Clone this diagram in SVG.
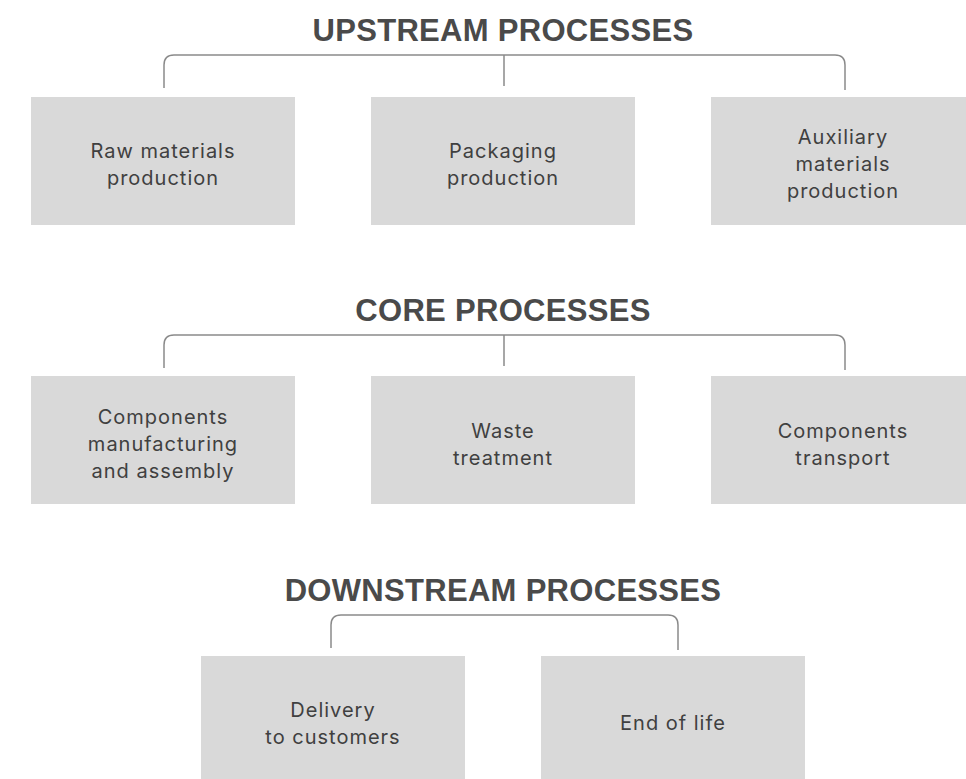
<svg xmlns="http://www.w3.org/2000/svg" width="966" height="779" viewBox="0 0 966 779">
  <style>
    .box { fill: #d9d9d9; }
    .lbl { font-family: Inter, "Noto Sans", "Liberation Sans", sans-serif; font-size: 20px; font-weight: 400; fill: #404040; text-anchor: middle; letter-spacing: 1px; }
    .title { font-family: "Liberation Sans", Arial, sans-serif; font-weight: bold; font-size: 31px; fill: #4a4a4a; text-anchor: middle; letter-spacing: 0.3px; }
    .br { fill: none; stroke: #8a8a8a; stroke-width: 1.5; }
  </style>
  <rect width="966" height="779" fill="#ffffff"/>

  <!-- section titles -->
  <g id="titles">
    <text class="title" x="503" y="41">UPSTREAM PROCESSES</text>
    <text class="title" x="503" y="321">CORE PROCESSES</text>
    <text class="title" x="503" y="601">DOWNSTREAM PROCESSES</text>
  </g>

  <!-- brackets linking titles to their process boxes -->
  <g id="connectors">
    <path class="br" d="M164 88 V65 Q164 55 174 55 H835 Q845 55 845 65 V90"/>
    <line class="br" x1="504" y1="55" x2="504" y2="86"/>
    <path class="br" d="M164 368 V345 Q164 335 174 335 H835 Q845 335 845 345 V370"/>
    <line class="br" x1="504" y1="335" x2="504" y2="366"/>
    <path class="br" d="M331 648 V625 Q331 615 341 615 H668 Q678 615 678 625 V650"/>
  </g>

  <!-- upstream -->
  <g id="raw-materials">
    <rect class="box" x="31" y="97" width="264" height="128"/>
    <text class="lbl" x="163" y="158">Raw materials</text>
    <text class="lbl" x="163" y="185">production</text>
  </g>
  <g id="packaging">
    <rect class="box" x="371" y="97" width="264" height="128"/>
    <text class="lbl" x="503" y="158">Packaging</text>
    <text class="lbl" x="503" y="185">production</text>
  </g>
  <g id="auxiliary">
    <rect class="box" x="711" y="97" width="264" height="128"/>
    <text class="lbl" x="843" y="144">Auxiliary</text>
    <text class="lbl" x="843" y="171">materials</text>
    <text class="lbl" x="843" y="198">production</text>
  </g>

  <!-- core -->
  <g id="manufacturing">
    <rect class="box" x="31" y="376" width="264" height="128"/>
    <text class="lbl" x="163" y="424">Components</text>
    <text class="lbl" x="163" y="451">manufacturing</text>
    <text class="lbl" x="163" y="478">and assembly</text>
  </g>
  <g id="waste">
    <rect class="box" x="371" y="376" width="264" height="128"/>
    <text class="lbl" x="503" y="438">Waste</text>
    <text class="lbl" x="503" y="465">treatment</text>
  </g>
  <g id="transport">
    <rect class="box" x="711" y="376" width="264" height="128"/>
    <text class="lbl" x="843" y="438">Components</text>
    <text class="lbl" x="843" y="465">transport</text>
  </g>

  <!-- downstream -->
  <g id="delivery">
    <rect class="box" x="201" y="656" width="264" height="128"/>
    <text class="lbl" x="333" y="717">Delivery</text>
    <text class="lbl" x="333" y="744">to customers</text>
  </g>
  <g id="end-of-life">
    <rect class="box" x="541" y="656" width="264" height="128"/>
    <text class="lbl" x="673" y="730">End of life</text>
  </g>
</svg>
